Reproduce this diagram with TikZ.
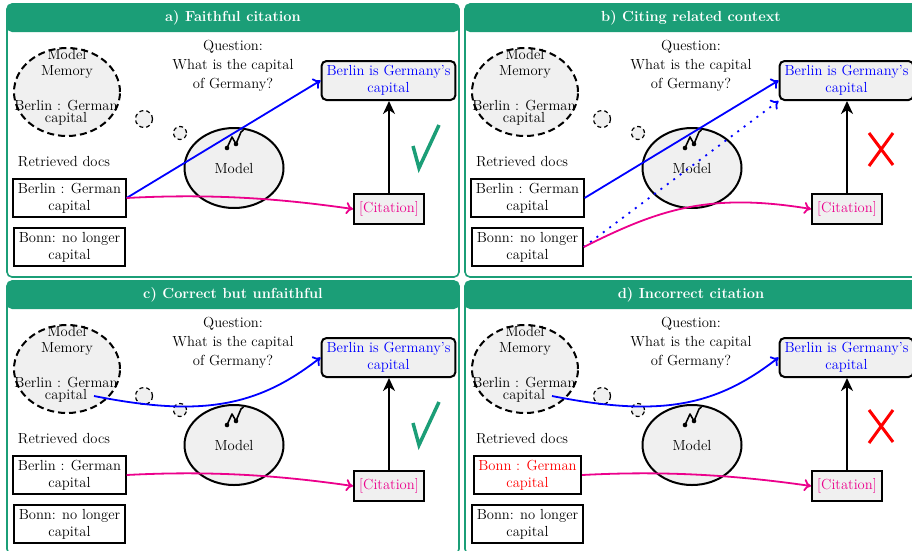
\documentclass[tikz,border=0pt]{standalone}
\usetikzlibrary{arrows.meta,shapes.geometric}
\definecolor{panelgreen}{RGB}{27,158,119}
\definecolor{pinkc}{RGB}{236,0,140}
\definecolor{boxgray}{RGB}{240,240,240}
\tikzset{
  basetxt/.style={font=\fontsize{14.6pt}{17pt}\selectfont, align=center, inner sep=0pt},
  panelframe/.style={draw=panelgreen, line width=1.6pt, fill=white, rounded corners=5pt},
  titlebar/.style={fill=panelgreen, rounded corners=5pt},
  titletext/.style={basetxt, font=\fontsize{14.6pt}{17pt}\selectfont\bfseries, text=white},
  memellipse/.style={ellipse, draw, dash pattern=on 7pt off 4pt, line width=2pt, fill=boxgray, minimum width=106pt, minimum height=88pt, inner sep=0pt},
  memtop/.style={basetxt, font=\fontsize{14.6pt}{15.4pt}\selectfont},
  membot/.style={basetxt, font=\fontsize{14.6pt}{11.8pt}\selectfont},
  bubble/.style={circle, draw, dash pattern=on 4pt off 3pt, line width=1.2pt, fill=boxgray, inner sep=0pt},
  question/.style={basetxt, font=\fontsize{14.6pt}{19pt}\selectfont},
  model/.style={basetxt, ellipse, draw, line width=2pt, fill=boxgray, minimum width=99pt, minimum height=80pt},
  answerbox/.style={basetxt, draw, rounded corners=5pt, line width=2pt, fill=boxgray, text=blue, inner xsep=5pt, minimum height=39pt},
  citebox/.style={basetxt, draw, line width=2pt, fill=boxgray, text=pinkc, minimum width=70pt, minimum height=30pt},
  docbox/.style={basetxt, draw, line width=2pt, fill=white, inner xsep=4.5pt, minimum height=38pt},
  blueline/.style={draw=blue, line width=1.8pt, -{To[length=7pt,width=12pt]}},
  pinkline/.style={draw=pinkc, line width=1.8pt, -{To[length=7pt,width=12pt]}},
  upline/.style={draw, line width=2pt, -{Stealth[length=13pt,width=12pt,inset=4pt]}},
  checkmk/.style={draw=panelgreen, line width=3.5pt},
  crossmk/.style={draw=red, line width=3pt},
}
\newcommand{\citepanel}[5]{%
\begin{scope}[shift={#2}]
\draw[panelframe] (7,4) rectangle (459,277);
\fill[titlebar] (7,4) rectangle (459,32);
\node[titletext] (#1-title) at (233,18) {#3};
\node[memellipse] (#1-mem) at (67,92) {};
\node[memtop] (#1-memtop) at (67,64) {Model\\Memory};
\node[membot] (#1-membot) at (66,112.8) {Berlin : German\\capital};
\coordinate (#1-memout) at (94,119);
\node[bubble, minimum size=17pt] (#1-bub1) at (144,119) {};
\node[bubble, minimum size=13pt] (#1-bub2) at (180,133) {};
\node[question] (#1-q) at (233,66) {Question:\\What is the capital\\of Germany?};
\node[model] (#1-model) at (234,168) {Model};
\draw[line width=1.6pt, line join=round] (227,148) -- (232,137) -- (236,144) -- (241,132) -- (243.5,130);
\fill (227,148) circle[radius=2.3pt];
\fill (236,144) circle[radius=2.3pt];
\node[answerbox] (#1-ans) at (388.5,80.5) {Berlin is Germany's\\capital};
\node[citebox] (#1-cit) at (389,209) {[Citation]};
\draw[upline] (#1-cit.north) -- (#1-cit.north |- #1-ans.south);
\node[basetxt, anchor=base] (#1-ret) at (64,166.5) {Retrieved docs};
\node[docbox, text=#5] (#1-doc1) at (69.5,198) {#4};
\node[docbox] (#1-doc2) at (69.5,247) {Bonn: no longer\\capital};
\end{scope}}
\begin{document}
\begin{tikzpicture}[x=1pt,y=-1pt]
\useasboundingbox (0,0) rectangle (912,550);
\clip (0,0) rectangle (912,550);
% panel a
\citepanel{a}{(0,0)}{a) Faithful citation}{Berlin : German\\capital}{black}
\draw[blueline] (a-doc1.east) -- (a-ans.west);
\draw[pinkline] (a-doc1.east) .. controls +(93,-5) and +(-63,-9) .. (a-cit.west);
\draw[checkmk] (413,146) -- (419,168) -- (439,125);
% panel b
\citepanel{b}{(458,0)}{b) Citing related context}{Berlin : German\\capital}{black}
\draw[blueline] (b-doc1.east) -- (b-ans.west);
\draw[blueline, dash pattern=on 2pt off 6pt] (b-doc2.east) -- (b-ans.south west);
\draw[pinkline] (b-doc2.east) .. controls +(74,-37) and +(-103,-17) .. (b-cit.west);
\draw[crossmk] (869,133) -- (893,165) (893,133) -- (869,166);
% panel c
\citepanel{c}{(0,277)}{c) Correct but unfaithful}{Berlin : German\\capital}{black}
\draw[blueline] (c-memout) .. controls +(106,21) and +(-64,50) .. (c-ans.west);
\draw[pinkline] (c-doc1.east) .. controls +(93,-5) and +(-63,-9) .. (c-cit.west);
\draw[checkmk] (413,423) -- (419,445) -- (439,402);
% panel d
\citepanel{d}{(458,277)}{d) Incorrect citation}{Bonn : German\\capital}{red}
\draw[blueline] (d-memout) .. controls +(106,21) and +(-64,50) .. (d-ans.west);
\draw[pinkline] (d-doc1.east) .. controls +(93,-5) and +(-63,-9) .. (d-cit.west);
\draw[crossmk] (869,410) -- (893,442) (893,410) -- (869,443);
\end{tikzpicture}
\end{document}
